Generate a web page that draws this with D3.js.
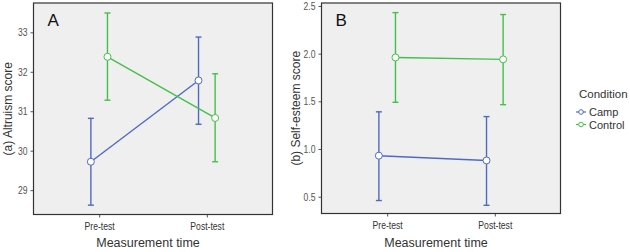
<!DOCTYPE html>
<html>
  <head>
    <style>
      body, html { margin: 0; padding: 0; background: #fff; }
      text { font-family: 'Liberation Sans', Arial, sans-serif; }
    </style>
  </head>
  <body>
    <svg id="svg" width="630" height="252"></svg>
    <script src="https://cdn.jsdelivr.net/npm/d3@7"></script>
    <script>
      const times = ['Pre-test', 'Post-test'];
      const groups = ['Camp', 'Control'];
      const colors = ['#4f69c6', '#44c04a'];

      // panel A: altruism
      const altMean = { Camp: [29.72, 31.78], Control: [32.38, 30.83] };
      const altLow = { Camp: [28.62, 30.67], Control: [31.28, 29.72] };
      const altHigh = { Camp: [30.82, 32.88], Control: [33.49, 31.95] };
      const altTicks = [29, 30, 31, 32, 33];

      // panel B: self-esteem
      const selfMean = { Camp: [0.93, 0.88], Control: [1.96, 1.94] };
      const selfLow = { Camp: [0.46, 0.41], Control: [1.49, 1.465] };
      const selfHigh = { Camp: [1.39, 1.34], Control: [2.43, 2.41] };
      const selfTicks = [0.5, 1.0, 1.5, 2.0, 2.5];

      const svg = d3.select('#svg');
      const color = d3.scaleOrdinal().domain(groups).range(colors);
      const dodge = { Camp: -8.3, Control: 8.3 };
      const narrow = 0.82; // squeeze tick labels like a narrow font

      function panel(opt) {
        const w = opt.right - opt.left;
        const h = opt.bottom - opt.top;
        const g = svg.append('g').attr('transform', `translate(${opt.left},${opt.top})`);
        const x = d3.scalePoint().domain(times).range([0, w]).padding(0.61);
        const y = d3.scaleLinear().domain(opt.domain).range([h, 0]);

        g.append('rect').attr('width', w).attr('height', h).attr('fill', '#efefef');

        const ya = g.append('g').call(d3.axisLeft(y).tickValues(opt.ticks).tickFormat(opt.fmt).tickSize(3).tickPadding(3));
        ya.select('.domain').remove();
        ya.selectAll('line').attr('stroke', '#555');
        ya.selectAll('text').attr('fill', '#555').style('font-size', '10.5px')
          .attr('x', -6 / narrow).attr('transform', `scale(${narrow},1)`);

        const xa = g.append('g').attr('transform', `translate(0,${h})`)
          .call(d3.axisBottom(x).tickSize(3).tickPadding(5));
        xa.select('.domain').remove();
        xa.selectAll('line').attr('stroke', '#555');
        xa.selectAll('text').attr('fill', '#333').style('font-size', '10.5px')
          .attr('transform', `scale(${narrow},1)`);

        groups.forEach((grp) => {
          const pts = times.map((t, i) => ({
            x: x(t) + dodge[grp],
            m: opt.mean[grp][i],
            lo: opt.low[grp][i],
            hi: opt.high[grp][i]
          }));
          const c = color(grp);
          g.append('path')
            .attr('d', d3.line().x((d) => d.x).y((d) => y(d.m))(pts))
            .attr('fill', 'none').attr('stroke', c).attr('stroke-width', 1.4);
          const eb = g.append('g').attr('stroke', c).attr('stroke-width', 1.4);
          eb.selectAll('.v').data(pts).enter().append('line')
            .attr('x1', (d) => d.x).attr('x2', (d) => d.x)
            .attr('y1', (d) => y(d.lo)).attr('y2', (d) => y(d.hi));
          ['lo', 'hi'].forEach((k) => {
            eb.selectAll('.c' + k).data(pts).enter().append('line')
              .attr('x1', (d) => d.x - 3).attr('x2', (d) => d.x + 3)
              .attr('y1', (d) => y(d[k])).attr('y2', (d) => y(d[k]));
          });
          g.selectAll('.p' + grp).data(pts).enter().append('circle')
            .attr('cx', (d) => d.x).attr('cy', (d) => y(d.m)).attr('r', 3.5)
            .attr('fill', '#fff').attr('stroke', c).attr('stroke-width', 1);
        });

        g.append('rect').attr('width', w).attr('height', h)
          .attr('fill', 'none').attr('stroke', '#333').attr('stroke-width', 1.2);

        g.append('text').text(opt.tag).attr('x', 14).attr('y', 23)
          .style('font-size', '17px').attr('fill', '#111');

        svg.append('text').text(opt.ylabel)
          .attr('transform', `translate(${opt.left - 21.5},${opt.top + h / 2}) rotate(-90)`)
          .attr('text-anchor', 'middle').style('font-size', '12px').attr('fill', '#333');

        svg.append('text').text('Measurement time')
          .attr('x', opt.left + w / 2 - 5).attr('y', 247)
          .attr('text-anchor', 'middle').style('font-size', '12.5px').attr('fill', '#333');
      }

      panel({
        left: 33.5, right: 272.5, top: 3, bottom: 214.5,
        domain: [28.383, 33.743], ticks: altTicks, fmt: d3.format('d'),
        mean: altMean, low: altLow, high: altHigh,
        tag: 'A', ylabel: '(a) Altruism score'
      });
      panel({
        left: 321.5, right: 560.5, top: 3, bottom: 213.5,
        domain: [0.324, 2.531], ticks: selfTicks, fmt: d3.format('.1f'),
        mean: selfMean, low: selfLow, high: selfHigh,
        tag: 'B', ylabel: '(b) Self-esteem score'
      });

      // legend
      const leg = svg.append('g').attr('transform', 'translate(576,0)');
      leg.append('text').text('Condition').attr('x', 3).attr('y', 98)
        .style('font-size', '11.5px').attr('fill', '#333');
      groups.forEach((grp, i) => {
        const yy = 112 + i * 12.5;
        leg.append('line').attr('x1', 0).attr('x2', 10).attr('y1', yy).attr('y2', yy)
          .attr('stroke', color(grp)).attr('stroke-width', 1.2);
        leg.append('circle').attr('cx', 5).attr('cy', yy).attr('r', 2.3)
          .attr('fill', '#fff').attr('stroke', color(grp));
        leg.append('text').text(grp).attr('x', 13).attr('y', yy + 4)
          .style('font-size', '11px').attr('fill', '#333');
      });
    </script>
  </body>
</html>
